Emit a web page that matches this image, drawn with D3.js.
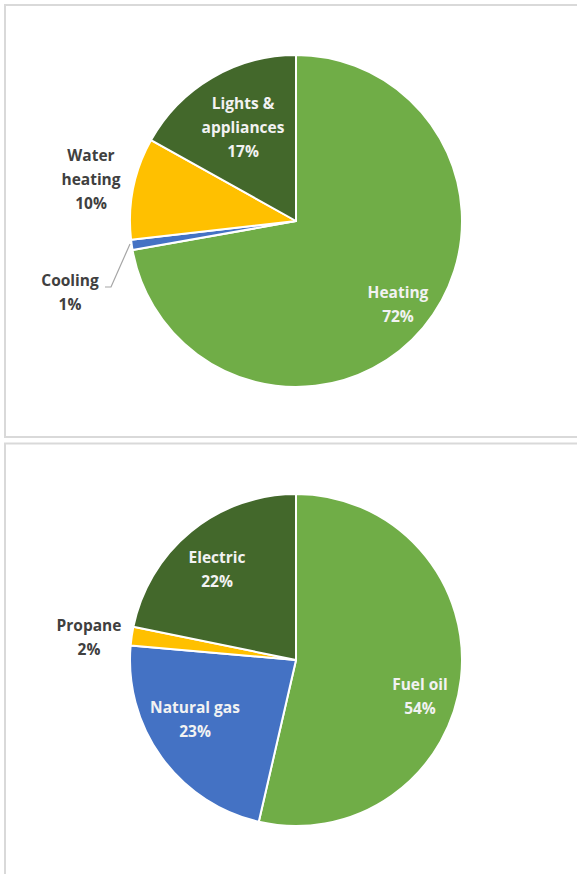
<!DOCTYPE html>
<html>
<head>
<meta charset="utf-8">
<script src="https://cdn.jsdelivr.net/npm/d3@7"></script>
<style>
  html, body { margin: 0; padding: 0; background: #fff; }
  svg { display: block; }
  .lbl { font-family: "Open Sans", sans-serif; font-weight: 700; font-size: 15.5px; }
</style>
</head>
<body>
<svg id="chart" width="577" height="874"></svg>
<script>
// end use of energy in the home
var useCategories = ["Heating", "Cooling", "Water heating", "Lights & appliances"];
var useValues = [72.2, 1.0, 9.9, 16.9];
var useLabels = [["Heating", "72%"], ["Cooling", "1%"], ["Water", "heating", "10%"], ["Lights &", "appliances", "17%"]];

// heating fuel
var fuelCategories = ["Fuel oil", "Natural gas", "Propane", "Electric"];
var fuelValues = [53.6, 22.8, 1.8, 21.8];
var fuelLabels = [["Fuel oil", "54%"], ["Natural gas", "23%"], ["Propane", "2%"], ["Electric", "22%"]];

var useColors = ["#70ad47", "#4472c4", "#ffc000", "#43682b"];
var fuelColors = ["#70ad47", "#4472c4", "#ffc000", "#43682b"];

var svg = d3.select("#chart");
var radius = 166;

// panel frames
svg.append("rect").attr("x", 5).attr("y", 5).attr("width", 600).attr("height", 432)
  .attr("fill", "none").attr("stroke", "#d9d9d9").attr("stroke-width", 2);
svg.append("rect").attr("x", 5).attr("y", 443.5).attr("width", 600).attr("height", 460)
  .attr("fill", "none").attr("stroke", "#d9d9d9").attr("stroke-width", 2);

// label placement (offset from pie centre, inside = white text)
var useLayout = [
  {dx: 102, dy: 84, inside: true},
  {dx: -226, dy: 72, inside: false, leader: [[-166, 23], [-185, 66], [-191, 66]]},
  {dx: -205, dy: -41, inside: false},
  {dx: -53, dy: -93, inside: true}
];
var fuelLayout = [
  {dx: 124, dy: 37, inside: true},
  {dx: -101, dy: 60, inside: true},
  {dx: -207, dy: -22, inside: false},
  {dx: -79, dy: -90, inside: true}
];

function drawPie(cx, cy, values, labels, fills, layout) {
  var g = svg.append("g").attr("transform", "translate(" + cx + "," + cy + ")");
  var pie = d3.pie().sort(null).value(function(d) { return d; });
  var arc = d3.arc().innerRadius(0).outerRadius(radius);

  g.selectAll("path.slice")
    .data(pie(values))
    .enter().append("path")
    .attr("class", "slice")
    .attr("d", arc)
    .attr("fill", function(d, i) { return fills[i]; })
    .attr("stroke", "#fff")
    .attr("stroke-width", 2)
    .attr("stroke-linejoin", "round");

  layout.forEach(function(p, i) {
    if (p.leader) {
      g.append("path")
        .attr("d", d3.line()(p.leader))
        .attr("fill", "none")
        .attr("stroke", "#a6a6a6")
        .attr("stroke-width", 1.2);
    }
    var lines = labels[i];
    var lh = 24;
    var t = g.append("text")
      .attr("class", "lbl")
      .attr("text-anchor", "middle")
      .attr("fill", p.inside ? "#f2f2f2" : "#404040");
    lines.forEach(function(s, k) {
      t.append("tspan")
        .attr("x", p.dx)
        .attr("y", p.dy + (k - (lines.length - 1) / 2) * lh)
        .attr("dy", "0.35em")
        .text(s);
    });
  });
}

drawPie(296, 221, useValues, useLabels, useColors, useLayout);
drawPie(296, 660, fuelValues, fuelLabels, fuelColors, fuelLayout);
</script>
</body>
</html>
